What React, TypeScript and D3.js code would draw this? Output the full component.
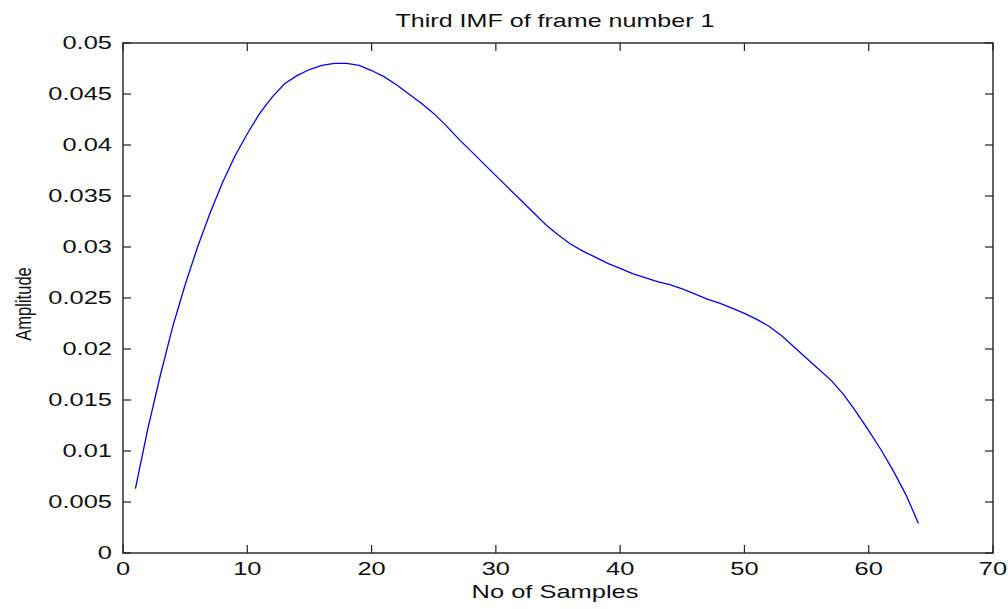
import React from "react";
import * as d3 from "d3";

// third IMF, frame 1
const samples = d3.range(1, 65);
const amplitude = [
  0.0063, 0.0122, 0.0174, 0.0222, 0.0263, 0.0300, 0.0333, 0.0363, 0.0389, 0.0411,
  0.0431, 0.0447, 0.0460, 0.0468, 0.0474, 0.0478, 0.0480, 0.0480, 0.0478, 0.0473,
  0.0467, 0.0459, 0.0450, 0.0441, 0.0431, 0.0419, 0.0406, 0.0394, 0.0382, 0.0370,
  0.0358, 0.0346, 0.0334, 0.0322, 0.0312, 0.0303, 0.0296, 0.0290, 0.0284, 0.0279,
  0.0274, 0.0270, 0.0266, 0.0263, 0.0259, 0.0254, 0.0249, 0.0245, 0.0240, 0.0235,
  0.0229, 0.0222, 0.0213, 0.0202, 0.0191, 0.0180, 0.0169, 0.0155, 0.0138, 0.0120,
  0.0101, 0.0080, 0.0057, 0.0029,
];
const xTicks = [0, 10, 20, 30, 40, 50, 60, 70];
const yTicks = [0, 0.005, 0.01, 0.015, 0.02, 0.025, 0.03, 0.035, 0.04, 0.045, 0.05];
const yTickLabels = ["0", "0.005", "0.01", "0.015", "0.02", "0.025", "0.03", "0.035", "0.04", "0.045", "0.05"];

const W = 1008;
const H = 609;
const margin = { top: 43, right: 15, bottom: 56, left: 123 };
const FONT = "'Liberation Sans', Arial, sans-serif";
const SX = 1.34; // the original bitmap font is wide

export default function App() {
  const x = d3.scaleLinear().domain([0, 70]).range([margin.left, W - margin.right]);
  const y = d3.scaleLinear().domain([0, 0.05]).range([H - margin.bottom, margin.top]);

  const line = d3
    .line<number>()
    .x((d, i) => x(samples[i]))
    .y((d) => y(d));

  const x0 = x.range()[0], x1 = x.range()[1];
  const y0 = y.range()[0], y1 = y.range()[1];
  const tick = 8;
  const axisColor = "#222";

  return (
    <svg width={W} height={H} style={{ position: "absolute", left: 0, top: 0, background: "#fff" }}>
      <rect x={0} y={0} width={W} height={H} fill="#fff" />

      {/* box */}
      <rect x={x0} y={y1} width={x1 - x0} height={y0 - y1} fill="none" stroke={axisColor} strokeWidth={1.4} />

      {/* ticks */}
      {xTicks.map((t) => (
        <g key={"xt" + t}>
          <line x1={x(t)} x2={x(t)} y1={y0} y2={y0 - tick} stroke={axisColor} strokeWidth={1.2} />
          <line x1={x(t)} x2={x(t)} y1={y1} y2={y1 + tick} stroke={axisColor} strokeWidth={1.2} />
          <text
            transform={`translate(${x(t)},${y0 + 22}) scale(${SX},1)`}
            textAnchor="middle"
            fontFamily={FONT}
            fontSize={19}
            fill="#111"
          >
            {t}
          </text>
        </g>
      ))}
      {yTicks.map((t, i) => (
        <g key={"yt" + i}>
          <line x1={x0} x2={x0 + tick} y1={y(t)} y2={y(t)} stroke={axisColor} strokeWidth={1.2} />
          <line x1={x1} x2={x1 - tick} y1={y(t)} y2={y(t)} stroke={axisColor} strokeWidth={1.2} />
          <text
            transform={`translate(${x0 - 11},${y(t) + 5.5}) scale(${SX},1)`}
            textAnchor="end"
            fontFamily={FONT}
            fontSize={19}
            fill="#111"
          >
            {yTickLabels[i]}
          </text>
        </g>
      ))}

      {/* data */}
      <path d={line(amplitude) ?? ""} fill="none" stroke="#0000ff" strokeWidth={1.3} />

      {/* labels */}
      <text
        transform={`translate(555,27) scale(1.32,1)`}
        textAnchor="middle"
        fontFamily={FONT}
        fontSize={19}
        fill="#111"
      >
        Third IMF of frame number 1
      </text>
      <text
        transform={`translate(555,598) scale(${SX},1)`}
        textAnchor="middle"
        fontFamily={FONT}
        fontSize={19}
        fill="#111"
      >
        No of Samples
      </text>
      <text
        transform={`translate(31,304) rotate(-90) scale(0.92,1.25)`}
        textAnchor="middle"
        fontFamily={FONT}
        fontSize={18}
        fill="#111"
      >
        Amplitude
      </text>
    </svg>
  );
}
